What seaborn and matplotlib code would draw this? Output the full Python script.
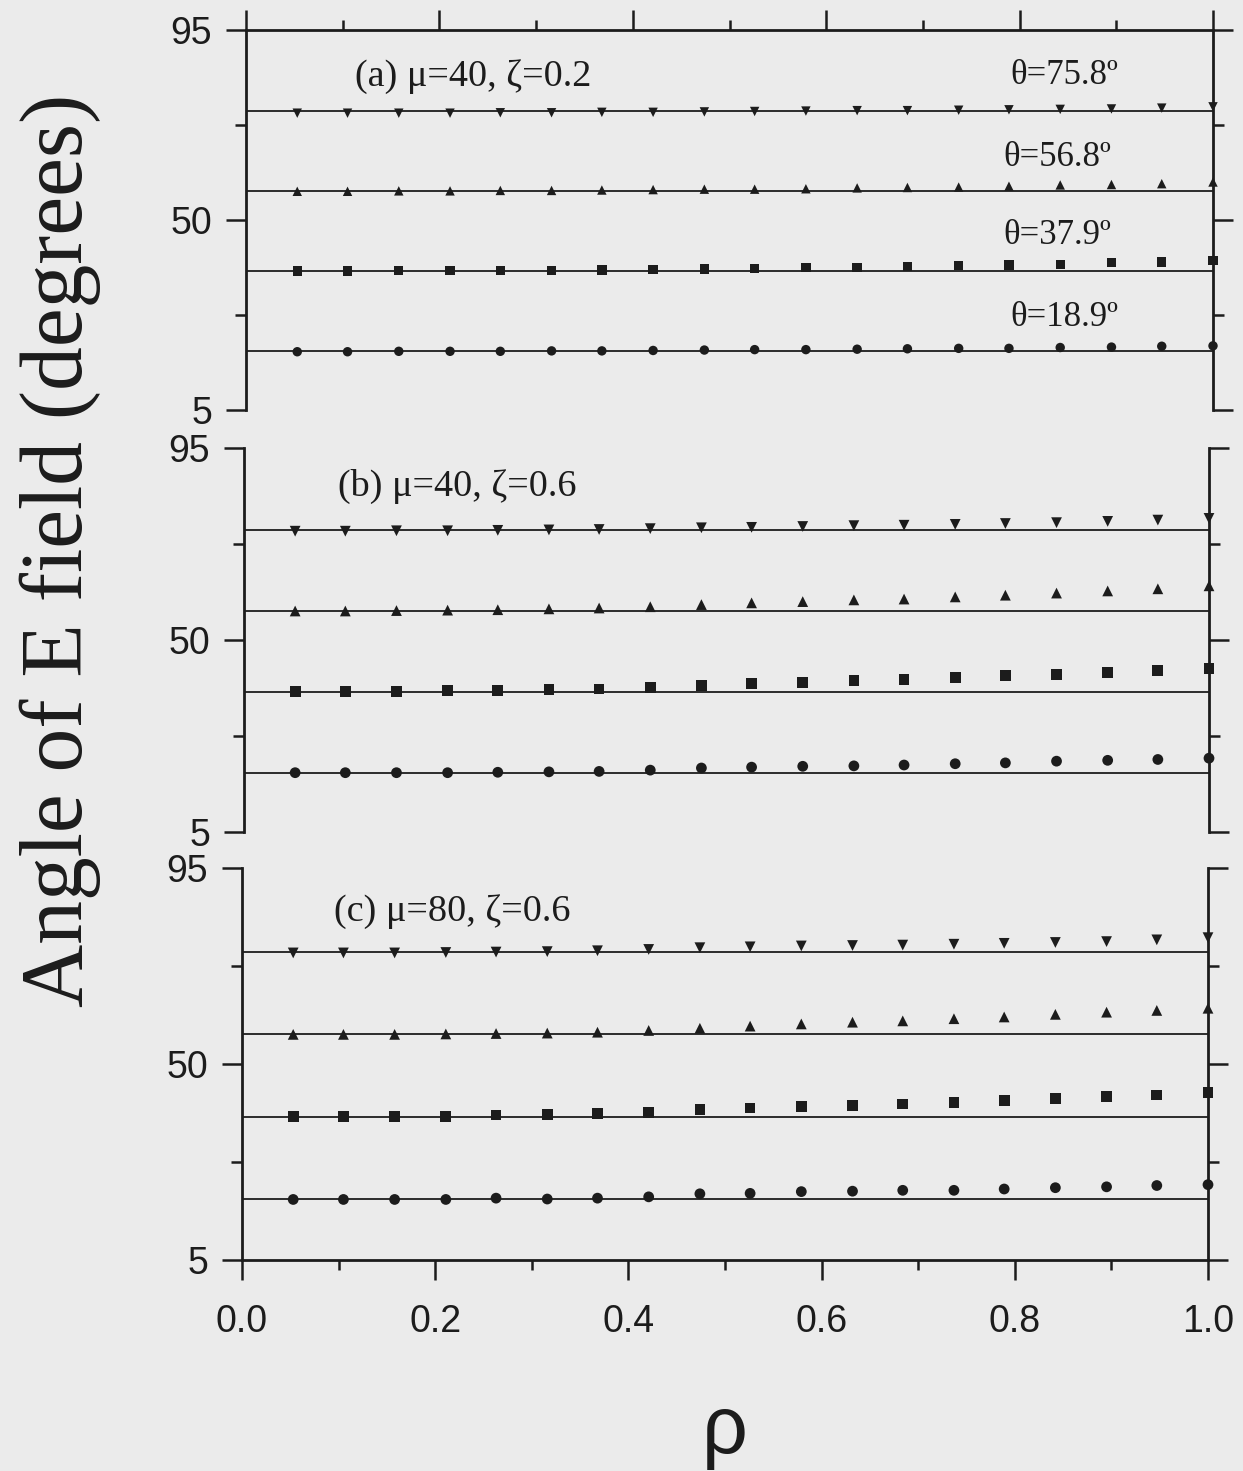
import matplotlib
matplotlib.use("Agg")
import matplotlib.pyplot as plt
from matplotlib.ticker import FixedLocator, MultipleLocator, FormatStrFormatter
import pandas as pd
import seaborn as sns

# ---------------------------------------------------------------- data
rho = [0.053, 0.105, 0.158, 0.211, 0.263, 0.316, 0.368, 0.421, 0.474, 0.526,
       0.579, 0.632, 0.684, 0.737, 0.789, 0.842, 0.895, 0.947, 1.000]

theta = [75.8, 56.8, 37.9, 18.9]
theta_labels = ["θ=75.8º", "θ=56.8º", "θ=37.9º", "θ=18.9º"]
panel_titles = ["(a) μ=40, ζ=0.2", "(b) μ=40, ζ=0.6", "(c) μ=80, ζ=0.6"]

# (a) mu=40, zeta=0.2
a_758 = [75.3, 75.3, 75.3, 75.3, 75.4, 75.4, 75.5, 75.5, 75.6, 75.7,
         75.8, 75.9, 75.9, 76.0, 76.1, 76.2, 76.3, 76.5, 76.8]
a_568 = [56.8, 56.8, 56.9, 56.9, 57.0, 57.0, 57.1, 57.2, 57.3, 57.3,
         57.4, 57.6, 57.7, 57.8, 58.0, 58.3, 58.4, 58.6, 59.0]
a_379 = [37.9, 37.9, 38.0, 38.0, 38.1, 38.1, 38.2, 38.3, 38.4, 38.5,
         38.7, 38.8, 39.0, 39.2, 39.3, 39.5, 39.9, 40.1, 40.4]
a_189 = [18.8, 18.8, 18.9, 18.9, 18.9, 19.0, 19.0, 19.1, 19.2, 19.3,
         19.3, 19.4, 19.5, 19.6, 19.6, 19.8, 19.9, 20.1, 20.2]

# (b) mu=40, zeta=0.6
b_758 = [75.5, 75.5, 75.6, 75.6, 75.7, 75.8, 75.9, 76.1, 76.3, 76.4,
         76.6, 76.8, 76.9, 77.1, 77.3, 77.5, 77.8, 78.1, 78.5]
b_568 = [56.8, 56.8, 56.9, 57.0, 57.1, 57.3, 57.5, 57.8, 58.3, 58.7,
         59.0, 59.4, 59.6, 60.1, 60.5, 61.0, 61.5, 62.0, 62.7]
b_379 = [37.9, 37.9, 38.0, 38.1, 38.2, 38.4, 38.5, 38.8, 39.4, 39.8,
         40.1, 40.5, 40.8, 41.2, 41.6, 42.0, 42.4, 42.8, 43.4]
b_189 = [18.9, 18.9, 18.9, 18.9, 19.0, 19.1, 19.2, 19.5, 20.0, 20.2,
         20.4, 20.5, 20.7, 21.0, 21.2, 21.6, 21.8, 22.0, 22.3]

# (c) mu=80, zeta=0.6
c_758 = [75.5, 75.5, 75.5, 75.6, 75.7, 75.8, 76.0, 76.3, 76.7, 76.9,
         77.1, 77.2, 77.3, 77.5, 77.7, 77.9, 78.1, 78.5, 79.0]
c_568 = [56.8, 56.8, 56.8, 56.9, 57.0, 57.1, 57.3, 57.7, 58.2, 58.7,
         59.2, 59.6, 59.9, 60.4, 60.8, 61.4, 61.9, 62.3, 62.8]
c_379 = [37.9, 37.9, 37.9, 38.0, 38.3, 38.4, 38.7, 38.8, 39.5, 39.9,
         40.2, 40.4, 40.8, 41.2, 41.6, 42.1, 42.5, 42.9, 43.5]
c_189 = [18.9, 18.9, 18.9, 18.9, 19.2, 19.0, 19.2, 19.5, 20.2, 20.3,
         20.7, 20.8, 21.0, 21.0, 21.3, 21.6, 21.8, 22.1, 22.3]

panel_series = [
    [a_758, a_568, a_379, a_189],
    [b_758, b_568, b_379, b_189],
    [c_758, c_568, c_379, c_189],
]

# ---------------------------------------------------------------- style
INK = "#1c1c1c"
PAPER = "#ebebeb"
SERIF = ["Liberation Serif", "DejaVu Serif"]
SANS = ["Liberation Sans", "DejaVu Sans"]

sns.set_theme(style="ticks")
plt.rcParams.update({
    "font.family": SANS,
    "axes.edgecolor": INK,
    "xtick.color": INK,
    "ytick.color": INK,
    "text.color": INK,
    "axes.linewidth": 2.0,
    "figure.facecolor": PAPER,
    "axes.facecolor": PAPER,
})

W, H = 1243, 1471
fig = plt.figure(figsize=(W / 100, H / 100), dpi=100)

# axes boxes in pixels: (left, right, top, bottom)
boxes = [(246, 1213, 30, 410), (244, 1209, 448, 832), (242, 1208, 868, 1260)]
marker_order = ["v", "^", "s", "o"]
marker_sizes = [46, 60, 60]
title_pos = [(0.113, 83.9), (0.097, 85.9), (0.095, 84.9)]
theta_text_pos = [(0.790, 84.3), (0.783, 64.7), (0.783, 46.4), (0.790, 26.8)]

axes = []
for i, (l, r, t, b) in enumerate(boxes):
    ax = fig.add_axes([l / W, 1 - b / H, (r - l) / W, (b - t) / H])
    axes.append(ax)

    # long-form table for this panel
    rows = []
    for th, vals in zip(theta, panel_series[i]):
        for x, y in zip(rho, vals):
            rows.append({"rho": x, "angle": y, "theta": th})
    df = pd.DataFrame(rows)

    # constant-theta reference lines
    ax.hlines(theta, 0.0, 1.0, colors=INK, linewidth=1.3, zorder=2)

    sns.scatterplot(
        data=df, x="rho", y="angle", style="theta",
        markers={th: m for th, m in zip(theta, marker_order)},
        color=INK, s=marker_sizes[i], linewidth=0, legend=False,
        clip_on=False, zorder=3, ax=ax,
    )

    ax.set_xlim(0.0, 1.0)
    ax.set_ylim(5, 95)
    ax.set_xlabel("")
    ax.set_ylabel("")

    # y axis: ticks out on both sides, labels on the left only
    ax.yaxis.set_major_locator(FixedLocator([5, 50, 95]))
    ax.yaxis.set_minor_locator(FixedLocator([27.5, 72.5]))
    ax.tick_params(axis="y", which="both", direction="out", left=True, right=True,
                   labelleft=True, labelright=False, width=1.8, pad=10,
                   labelsize=27)
    ax.tick_params(axis="y", which="major", length=14.5)
    ax.tick_params(axis="y", which="minor", length=8)

    # x axis
    ax.xaxis.set_major_locator(MultipleLocator(0.2))
    ax.xaxis.set_minor_locator(MultipleLocator(0.1))
    ax.xaxis.set_major_formatter(FormatStrFormatter("%.1f"))
    ax.tick_params(axis="x", which="both", direction="out", width=1.8,
                   labelsize=27, pad=17)
    ax.tick_params(axis="x", which="major", length=14.5)
    ax.tick_params(axis="x", which="minor", length=7)

    if i == 0:
        ax.spines["bottom"].set_visible(False)
        ax.tick_params(axis="x", which="both", top=True, bottom=False,
                       labeltop=False, labelbottom=False)
    elif i == 1:
        ax.spines["bottom"].set_visible(False)
        ax.spines["top"].set_visible(False)
        ax.tick_params(axis="x", which="both", top=False, bottom=False,
                       labeltop=False, labelbottom=False)
    else:
        ax.spines["top"].set_visible(False)
        ax.tick_params(axis="x", which="both", top=False, bottom=True,
                       labeltop=False, labelbottom=True)

    ax.text(title_pos[i][0], title_pos[i][1], panel_titles[i],
            family=SERIF, fontsize=27.5, va="center", ha="left", color=INK)

# theta labels in panel (a)
for (tx, ty), txt in zip(theta_text_pos, theta_labels):
    axes[0].text(tx, ty, txt, family=SERIF, fontsize=25, va="center",
                 ha="left", color=INK)

# shared axis titles
fig.text(60 / W, 1 - 550 / H, "Angle of E field (degrees)", rotation=90,
         family=SERIF, fontsize=63, ha="center", va="center", color=INK)
fig.text(725 / W, 1 - 1432 / H, "ρ", family=SANS, fontsize=58,
         ha="center", va="center", color=INK)

fig.savefig("out.png", dpi=100, facecolor=PAPER)
